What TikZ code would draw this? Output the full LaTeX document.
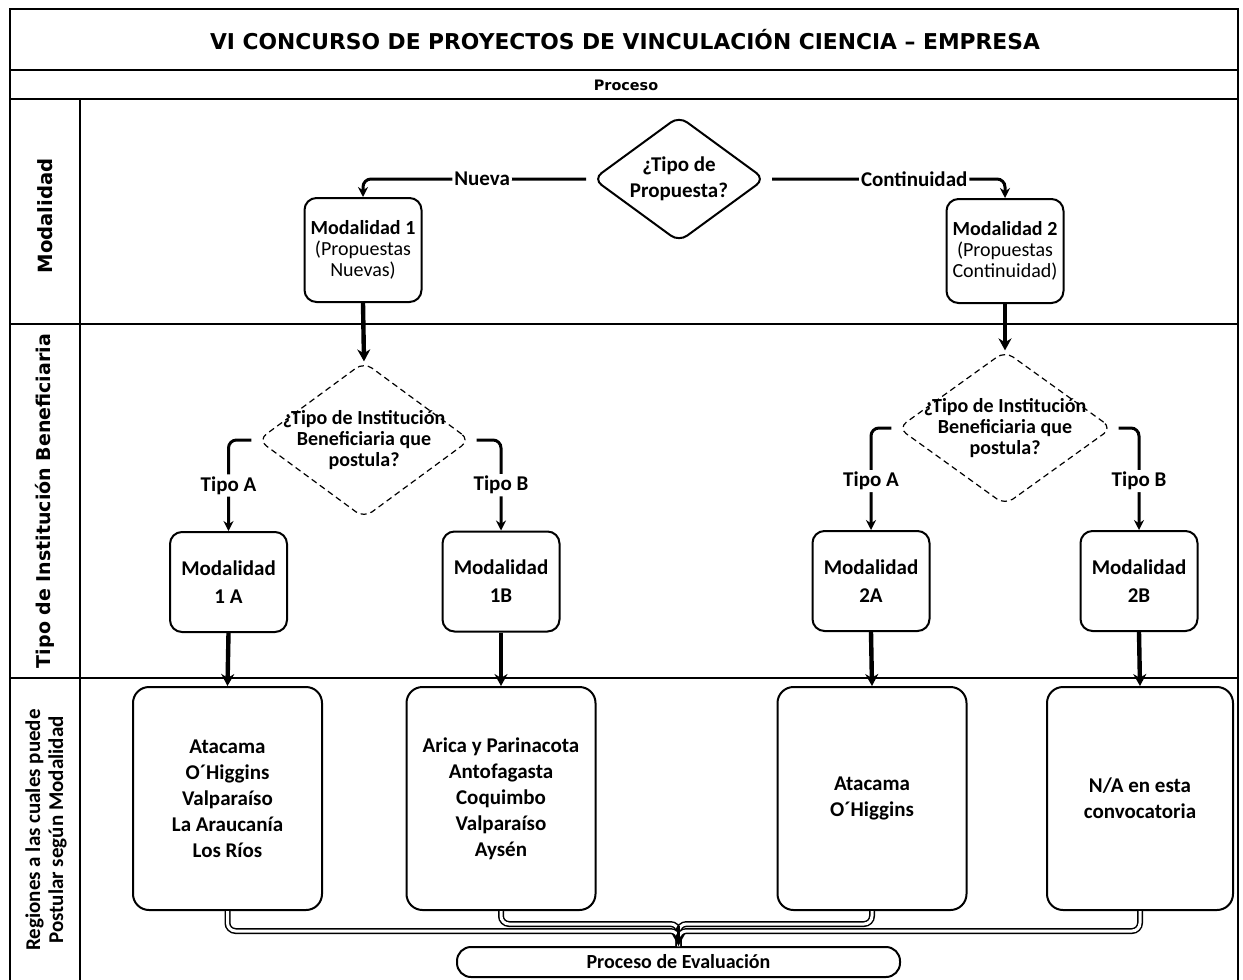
\documentclass[tikz,border=0pt]{standalone}
\usepackage{fontspec}
\setmainfont{Carlito}
\newfontfamily\verdfont{DejaVu Sans}
\usepackage{tikz}
\usetikzlibrary{arrows.meta,positioning,shapes.geometric}
\tikzstyle{lane} = [line width=1pt]
\tikzstyle{box} = [draw, line width=1pt, rounded corners=6pt, minimum width=58.5pt, minimum height=50pt, align=center, inner sep=0pt, font=\fontsize{10.5}{14}\selectfont\bfseries]
\tikzstyle{topbox} = [box, minimum height=52pt, font=\fontsize{10}{10.5}\selectfont]
\tikzstyle{regbox} = [box, rounded corners=8pt, minimum width=94.5pt, minimum height=111.5pt, font=\fontsize{10.5}{13}\selectfont\bfseries]
\tikzstyle{decision} = [draw, diamond, rounded corners=5pt, inner sep=0pt, line width=1pt]
\tikzstyle{qtext} = [align=center, inner sep=0pt, font=\fontsize{10.5}{13}\selectfont\bfseries]
\tikzstyle{branch} = [line width=1.5pt, rounded corners=4pt, -{Stealth[length=5pt,width=5pt]}, shorten <=3pt]
\tikzstyle{down} = [line width=2.2pt, -{Stealth[length=6pt,width=6.5pt]}]
\tikzstyle{merge} = [double, line width=0.75pt, double distance=1.5pt, rounded corners=4pt]
\tikzstyle{lbl} = [fill=white, inner sep=1pt, font=\fontsize{10.5}{12}\selectfont\bfseries]
\tikzstyle{lanelabel} = [rotate=90, align=center, inner sep=0pt]

\begin{document}
\begin{tikzpicture}[x=0.5pt,y=-0.5pt]
  \useasboundingbox (0,0) rectangle (1243,980);
  % frame and lanes
  \draw[lane] (10,980) -- (10,9) -- (1238,9) -- (1238,980);
  \draw[line width=1.4pt] (10,70) -- (1238,70);
  \draw[lane] (10,99) -- (1238,99);
  \draw[lane] (80,99) -- (80,980);
  \draw[lane] (10,324) -- (1238,324);
  \draw[lane] (10,678) -- (1238,678);
  \node (title) at (625,40) {\verdfont\bfseries\fontsize{10.9}{12}\selectfont VI CONCURSO DE PROYECTOS DE VINCULACIÓN CIENCIA – EMPRESA};
  \node (proceso) at (626,85) {\verdfont\bfseries\fontsize{7.2}{8}\selectfont Proceso};
  \node[lanelabel] (lmod) at (45,216) {\verdfont\bfseries\fontsize{9.8}{11}\selectfont Modalidad};
  \node[lanelabel] (ltipo) at (45,501) {\verdfont\bfseries\fontsize{9.5}{11}\selectfont Tipo de Institución Beneficiaria};
  \node[lanelabel, font=\fontsize{10.5}{11.5}\selectfont\bfseries] (lreg) at (46,830) {Regiones a las cuales puede\\Postular según Modalidad};

  % modalidad
  \node[decision, minimum width=86pt, minimum height=63pt] (tipoprop) at (679,179) {};
  \node[qtext] (tipoproptxt) at (tipoprop.center) {¿Tipo de\\Propuesta?};
  \node[topbox] (mod1) at (363,250) {\textbf{Modalidad 1}\\(Propuestas\\Nuevas)};
  \node[topbox] (mod2) at (1005,251) {\textbf{Modalidad 2}\\(Propuestas\\Continuidad)};
  \draw[branch] (tipoprop.west) -| node[lbl, pos=0.24] (nueva) {Nueva} (mod1.north);
  \draw[branch] (tipoprop.east) -| node[lbl, pos=0.31] (cont) {Continuidad} (mod2.north);

  % tipo de institucion
  \node[decision, densely dashed, line width=0.6pt, minimum width=106pt, minimum height=78pt] (qinst1) at (364,440) {};
  \node[qtext, font=\fontsize{10}{10.5}\selectfont\bfseries] (qinst1txt) at (qinst1.center) {¿Tipo de Institución\\Beneficiaria que\\postula?};
  \node[decision, densely dashed, line width=0.6pt, minimum width=107pt, minimum height=77pt] (qinst2) at (1005,428) {};
  \node[qtext, font=\fontsize{10}{10.5}\selectfont\bfseries] (qinst2txt) at (qinst2.center) {¿Tipo de Institución\\Beneficiaria que\\postula?};
  \draw[down] (mod1.south) -- (qinst1.north);
  \draw[down] (mod2.south) -- (qinst2.north);
  \node[box] (m1a) at (228.5,582) {Modalidad\\1 A};
  \node[box] (m1b) at (501,581.5) {Modalidad\\1B};
  \node[box] (m2a) at (871,581) {Modalidad\\2A};
  \node[box] (m2b) at (1139,581) {Modalidad\\2B};
  \draw[branch] (qinst1.west) -| node[lbl, pos=0.75] (ta1) {Tipo A} (m1a.north);
  \draw[branch] (qinst1.east) -| node[lbl, pos=0.75] (tb1) {Tipo B} (m1b.north);
  \draw[branch] (qinst2.west) -| node[lbl, pos=0.76] (ta2) {Tipo A} (m2a.north);
  \draw[branch] (qinst2.east) -| node[lbl, pos=0.76] (tb2) {Tipo B} (m2b.north);

  % regiones
  \node[regbox] (r1) at (227.5,798.5) {Atacama\\O´Higgins\\Valparaíso\\La Araucanía\\Los Ríos};
  \node[regbox] (r2) at (501,798.5) {Arica y Parinacota\\Antofagasta\\Coquimbo\\Valparaíso\\Aysén};
  \node[regbox] (r3) at (872,798.5) {Atacama\\O´Higgins};
  \node[regbox, minimum width=93pt] (r4) at (1140,798.5) {N/A en esta\\convocatoria};
  \draw[down] (m1a.south) -- (r1.north);
  \draw[down] (m1b.south) -- (r2.north);
  \draw[down] (m2a.south) -- (r3.north);
  \draw[down] (m2b.south) -- (r4.north);
  \node[draw, line width=1pt, rounded corners=7pt, minimum width=221.5pt, minimum height=15pt, inner sep=0pt, font=\fontsize{10}{12}\selectfont\bfseries] (eval) at (678.5,962) {Proceso de Evaluación};
  \coordinate (evjoin) at (678.5,926);
  \draw[merge] (r2.south) -- ++(0,13) -| (eval.north);
  \draw[merge] (r3.south) -- ++(0,13) -| (eval.north);
  \draw[merge] (r1.south) -- ++(0,20) -| (eval.north);
  \draw[merge] (r4.south) -- ++(0,20) -| (eval.north);
  \draw[line width=1.8pt, -{Stealth[length=6pt,width=6.5pt]}] (evjoin) -- (eval.north);
\end{tikzpicture}
\end{document}
